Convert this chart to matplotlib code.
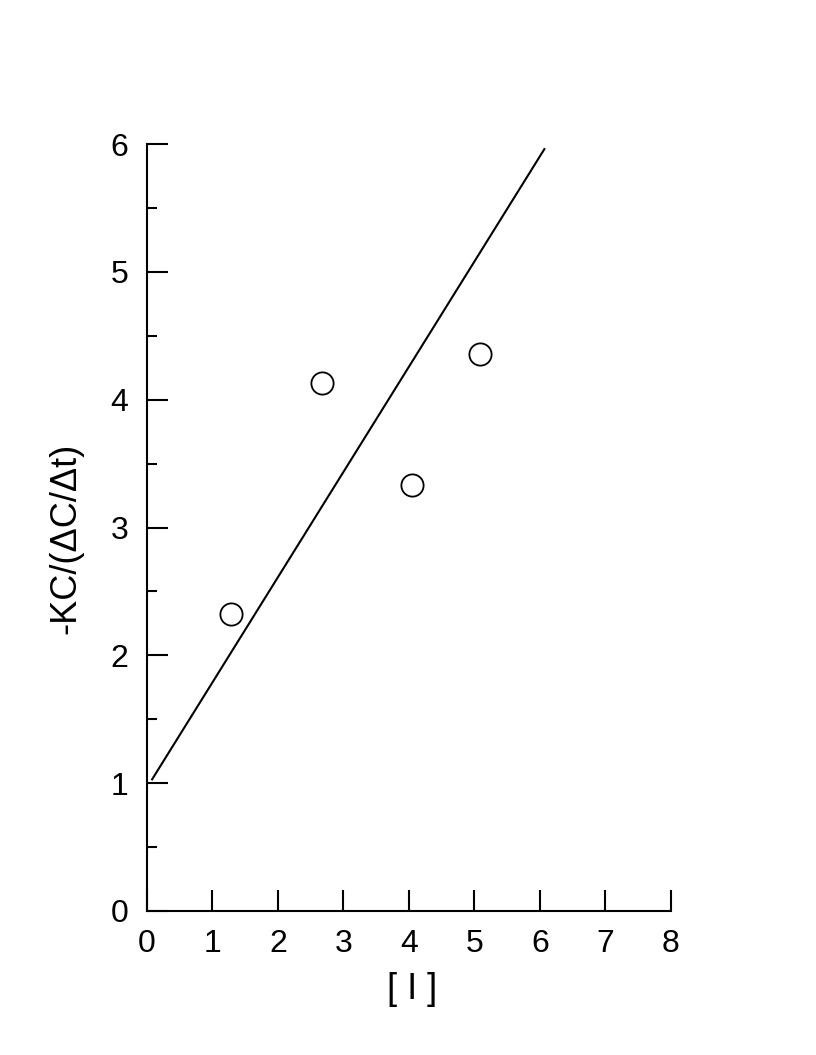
import matplotlib
matplotlib.use("Agg")
import matplotlib.pyplot as plt
from matplotlib.ticker import MultipleLocator

plt.rcParams['font.family'] = ['Liberation Sans', 'DejaVu Sans']

x_points = [1.28, 2.68, 4.05, 5.08]
y_points = [2.32, 4.13, 3.33, 4.36]
line_x = [0.08, 6.07]
line_y = [1.03, 5.96]

fig = plt.figure(figsize=(8.16, 10.55), dpi=100)
ax = fig.add_axes([0.180, 0.1365, 0.642, 0.727])

ax.plot(line_x, line_y, color='black', lw=1.5)
ax.plot(x_points, y_points, 'o', ms=16, mfc='white', mec='black', mew=1.3, linestyle='none')

ax.set_xlim(0, 8)
ax.set_ylim(0, 6)
ax.spines['top'].set_visible(False)
ax.spines['right'].set_visible(False)
for s in ['left', 'bottom']:
    ax.spines[s].set_linewidth(1.5)

ax.xaxis.set_major_locator(MultipleLocator(1))
ax.yaxis.set_major_locator(MultipleLocator(1))
ax.yaxis.set_minor_locator(MultipleLocator(0.5))
ax.tick_params(axis='both', which='major', direction='in', length=15, width=1.5, labelsize=23)
ax.tick_params(axis='y', which='minor', direction='in', length=7.5, width=1.5)
ax.tick_params(axis='x', pad=13)
ax.tick_params(axis='y', pad=13.5)

ax.set_xlabel('[ I ]', fontsize=26, va='center')
ax.xaxis.set_label_coords(0.506, -0.103)
ax.set_ylabel('-KC/(\u0394C/\u0394t)', fontsize=26, va='center')
ax.yaxis.set_label_coords(-0.155, 0.486)

fig.savefig('out.png', dpi=100)
